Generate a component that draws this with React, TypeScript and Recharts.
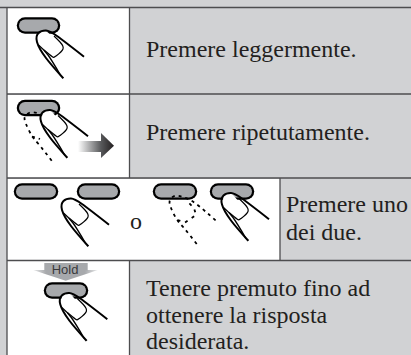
import { ComposedChart, XAxis, YAxis, Line, Area, Scatter, ReferenceArea } from 'recharts';

type Pt = { x: number; y: number };

const WIDTH = 411;
const HEIGHT = 355;

// readings, axes run 0-411 and 0-355 (y downwards)
const whiteCells = [
  [7, 8, 129, 94],
  [7, 95, 129, 178],
  [7, 179, 280, 260],
  [7, 261, 129, 355],
];

const gridLines: Pt[][] = [
  [{ x: 0, y: 7.5 }, { x: 411, y: 7.5 }],
  [{ x: 7, y: 94 }, { x: 411, y: 94 }],
  [{ x: 7, y: 178 }, { x: 411, y: 178 }],
  [{ x: 7, y: 260.5 }, { x: 411, y: 260.5 }],
  [{ x: 7, y: 7.5 }, { x: 7, y: 355 }],
  [{ x: 129.5, y: 7.5 }, { x: 129.5, y: 178 }],
  [{ x: 129.5, y: 260.5 }, { x: 129.5, y: 355 }],
  [{ x: 280, y: 178 }, { x: 280, y: 260.5 }],
];

const pills: Pt[][] = [
  [{ x: 25, y: 25.5 }, { x: 52, y: 25.5 }],
  [{ x: 25, y: 108 }, { x: 52, y: 108 }],
  [{ x: 22, y: 191.5 }, { x: 50, y: 191.5 }],
  [{ x: 85, y: 191.5 }, { x: 112, y: 191.5 }],
  [{ x: 161, y: 191.5 }, { x: 189, y: 191.5 }],
  [{ x: 218, y: 191.5 }, { x: 246, y: 191.5 }],
  [{ x: 52, y: 290.5 }, { x: 80, y: 290.5 }],
];

const fingerPalm: Pt[] = [{ x: 44, y: 37 }, { x: 50, y: 44 }];
const fingerOutline: Pt[] = [
  { x: 63.3, y: 78.3 },
  { x: 46, y: 58 },
  { x: 37, y: 42 },
  { x: 38.5, y: 33 },
  { x: 46, y: 30.5 },
  { x: 57, y: 36 },
  { x: 84, y: 56.7 },
];
const fingerSecond: Pt[] = [{ x: 38.5, y: 45 }, { x: 48, y: 55 }, { x: 61, y: 76 }];
const fingerNail: Pt[] = [
  { x: 44, y: 50 },
  { x: 52, y: 56.5 },
  { x: 56, y: 56 },
  { x: 63, y: 49 },
  { x: 60, y: 42 },
  { x: 54, y: 36 },
];
const fingerOffsets: Pt[] = [
  { x: 0, y: 0 },
  { x: 4, y: 79.5 },
  { x: 25, y: 168 },
  { x: 185, y: 162.5 },
  { x: 23.3, y: 262.5 },
];

// dashed finger of row 3, and the part of it that stays visible in row 2
const ghostOutline: Pt[] = [
  { x: 196.7, y: 244 },
  { x: 184, y: 228 },
  { x: 177, y: 219.7 },
  { x: 171, y: 208 },
  { x: 170, y: 200 },
  { x: 175.7, y: 195.7 },
  { x: 183.3, y: 197.3 },
  { x: 195, y: 203 },
  { x: 217.7, y: 222.3 },
];
const ghostNail: Pt[] = [
  { x: 177.5, y: 220 },
  { x: 185, y: 222.5 },
  { x: 196, y: 215 },
  { x: 194, y: 208 },
  { x: 188, y: 202 },
];
const ghostRowTwo: Pt[] = [
  { x: 51.7, y: 160.7 },
  { x: 38.5, y: 144 },
  { x: 32, y: 136 },
  { x: 26, y: 124 },
  { x: 25, y: 116.5 },
  { x: 30.5, y: 112.5 },
  { x: 37, y: 113 },
];
const ghostNailRowTwo: Pt[] = [
  { x: 32, y: 136.5 },
  { x: 40, y: 139 },
];

const arrowShaft = [
  { x: 78, band: [141, 152] },
  { x: 101, band: [141, 152] },
];
const arrowHead = [
  { x: 101, band: [133, 158] },
  { x: 114, band: [145.7, 145.7] },
];
const holdShaft = [
  { x: 44.3, band: [263, 270.5] },
  { x: 87.7, band: [263, 270.5] },
];
const holdHead = [
  { x: 33.3, band: [270, 270] },
  { x: 44.3, band: [270, 273.8] },
  { x: 65.7, band: [270, 280.7] },
  { x: 87.7, band: [270, 273.5] },
  { x: 97.7, band: [270, 270] },
];

const labels = [
  { x: 146, y: 57, text: 'Premere leggermente.' },
  { x: 146, y: 139.5, text: 'Premere ripetutamente.' },
  { x: 130, y: 229.3, text: 'o' },
  { x: 286, y: 212, text: 'Premere uno' },
  { x: 286, y: 239.5, text: 'dei due.' },
  { x: 146, y: 296, text: 'Tenere premuto fino ad' },
  { x: 146, y: 322.5, text: 'ottenere la risposta' },
  { x: 146, y: 349, text: 'desiderata.' },
];
const holdLabel = [{ x: 65, y: 274, text: 'Hold' }];

const shift = (points: Pt[], by: Pt) => points.map((p) => ({ x: p.x + by.x, y: p.y + by.y }));

const SerifLabel = (props: any) => (
  <text x={props.cx} y={props.cy} fontFamily="Liberation Serif" fontSize={24} fill="#231f20">
    {props.payload.text}
  </text>
);

const HoldText = (props: any) => (
  <text x={props.cx} y={props.cy} textAnchor="middle" fontFamily="Liberation Sans" fontSize={13} fill="#3a3a3c">
    {props.payload.text}
  </text>
);

const stroke = (data: Pt[], key: string, color: string, width: number, extra: any = {}) => (
  <Line
    key={key}
    data={data}
    dataKey="y"
    type="linear"
    stroke={color}
    strokeWidth={width}
    dot={false}
    activeDot={false}
    legendType="none"
    isAnimationActive={false}
    {...extra}
  />
);

export default function App() {
  return (
    <div style={{ width: WIDTH, height: HEIGHT, background: '#d1d2d4' }}>
      <style>{'body{margin:0}'}</style>
      <ComposedChart width={WIDTH} height={HEIGHT} margin={{ top: 0, right: 0, bottom: 0, left: 0 }}>
        <defs>
          <linearGradient id="shaftFill" x1="0" y1="0" x2="1" y2="0">
            <stop offset="0%" stopColor="#ffffff" />
            <stop offset="100%" stopColor="#58595b" />
          </linearGradient>
          <linearGradient id="headFill" x1="0" y1="0" x2="1" y2="0">
            <stop offset="0%" stopColor="#58595b" />
            <stop offset="100%" stopColor="#231f20" />
          </linearGradient>
          <linearGradient id="holdFill" x1="0" y1="0" x2="1" y2="0">
            <stop offset="0%" stopColor="#e6e7e8" />
            <stop offset="20%" stopColor="#a7a9ac" />
            <stop offset="80%" stopColor="#a7a9ac" />
            <stop offset="100%" stopColor="#e6e7e8" />
          </linearGradient>
        </defs>
        <XAxis type="number" dataKey="x" domain={[0, WIDTH]} hide allowDataOverflow />
        <YAxis type="number" domain={[0, HEIGHT]} reversed hide allowDataOverflow />
        {whiteCells.map((c, i) => (
          <ReferenceArea key={i} x1={c[0]} y1={c[1]} x2={c[2]} y2={c[3]} fill="#ffffff" fillOpacity={1} stroke="none" />
        ))}
        {gridLines.map((g, i) => stroke(g, `grid${i}`, '#4d4d4f', 1.3))}
        <Area data={arrowShaft} dataKey="band" type="linear" fill="url(#shaftFill)" fillOpacity={1} stroke="none" dot={false} activeDot={false} isAnimationActive={false} />
        <Area data={arrowHead} dataKey="band" type="linear" fill="url(#headFill)" fillOpacity={1} stroke="none" dot={false} activeDot={false} isAnimationActive={false} />
        <Area data={holdHead} dataKey="band" type="linear" fill="url(#holdFill)" fillOpacity={1} stroke="none" dot={false} activeDot={false} isAnimationActive={false} />
        <Area data={holdShaft} dataKey="band" type="linear" fill="#a7a9ac" fillOpacity={1} stroke="none" dot={false} activeDot={false} isAnimationActive={false} />
        {pills.map((p, i) => stroke(p, `pillEdge${i}`, '#000000', 16.5, { strokeLinecap: 'round' }))}
        {pills.map((p, i) => stroke(p, `pillFill${i}`, '#a7a9ac', 12, { strokeLinecap: 'round' }))}
        {stroke(ghostOutline, 'ghost', '#000000', 1.8, { type: 'natural', strokeDasharray: '3 4' })}
        {stroke(ghostNail, 'ghostNail', '#000000', 1.8, { strokeDasharray: '3 5' })}
        {stroke(ghostRowTwo, 'ghostTwo', '#000000', 1.8, { type: 'natural', strokeDasharray: '3 4' })}
        {stroke(ghostNailRowTwo, 'ghostNailTwo', '#000000', 1.8, { strokeDasharray: '3 4' })}
        {fingerOffsets.map((o, i) => stroke(shift(fingerPalm, o), `palm${i}`, '#ffffff', 12, { strokeLinecap: 'round' }))}
        {fingerOffsets.map((o, i) => stroke(shift(fingerOutline, o), `outline${i}`, '#000000', 2, { type: 'natural' }))}
        {fingerOffsets.map((o, i) => stroke(shift(fingerSecond, o), `second${i}`, '#000000', 1.3, { type: 'natural' }))}
        {fingerOffsets.map((o, i) => stroke(shift(fingerNail, o), `nail${i}`, '#000000', 1.2, { type: 'natural' }))}
        <Scatter data={labels} dataKey="y" shape={SerifLabel} isAnimationActive={false} />
        <Scatter data={holdLabel} dataKey="y" shape={HoldText} isAnimationActive={false} />
      </ComposedChart>
    </div>
  );
}
